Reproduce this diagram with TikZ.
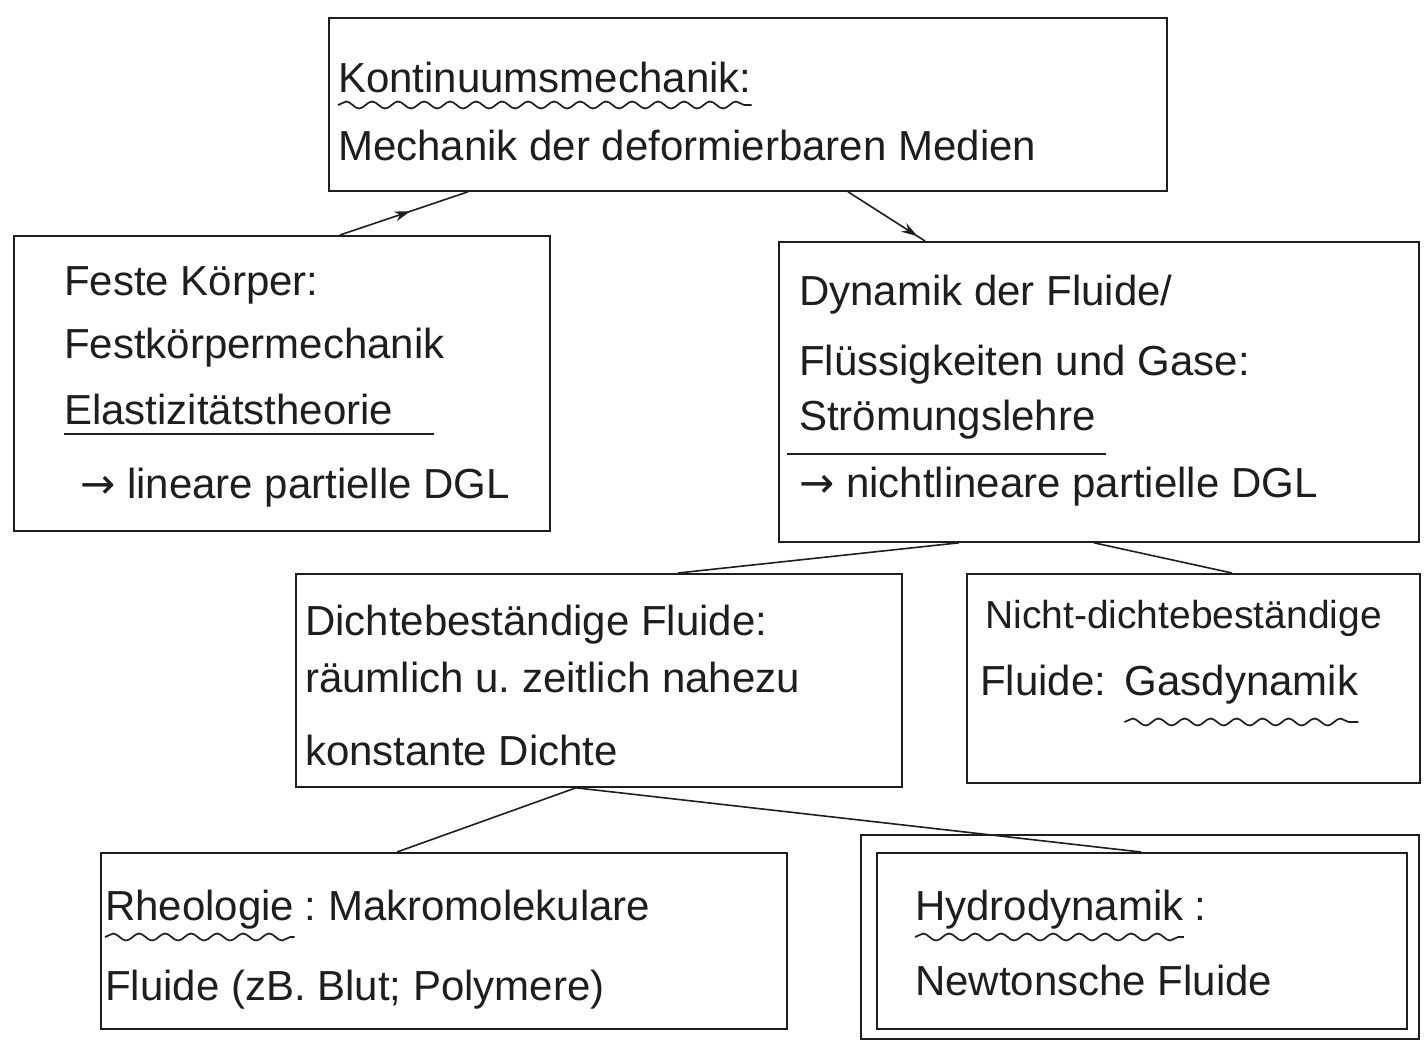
\documentclass[tikz,border=0pt]{standalone}
\usepackage{fontspec}
\setmainfont{Liberation Sans}
\newfontfamily\arrowfont{DejaVu Sans}
\frenchspacing
\usetikzlibrary{decorations.pathmorphing,decorations.markings,arrows.meta}
\definecolor{ink}{HTML}{1E1E1E}
\begin{document}
\begin{tikzpicture}[x=1pt,y=-1pt,
  box/.style={draw=ink, line width=1.8pt, inner sep=0pt, anchor=north west},
  txt/.style={anchor=base west, inner sep=0pt, text=ink, font=\fontsize{42}{50}\selectfont},
  link/.style={draw=ink, line width=1.6pt},
  uline/.style={draw=ink, line width=1.6pt},
  wave/.style={draw=ink, line width=1.7pt, decorate, decoration={snake, segment length=26pt, amplitude=3.5pt}},
  midarrow/.style={postaction={decorate}, decoration={markings, mark=at position #1 with {\arrow[ink]{Stealth[length=16pt,width=10pt]}}}}
]
\useasboundingbox[fill=white] (0,0) rectangle (1424,1045);

% boxes
\node[box, minimum width=838pt, minimum height=173pt] (kont) at (328,17) {};
\node[box, minimum width=536pt, minimum height=295pt] (fest) at (13,235) {};
\node[box, minimum width=640pt, minimum height=300pt] (fluid) at (778,241) {};
\node[box, minimum width=606pt, minimum height=213pt] (dicht) at (295,573) {};
\node[box, minimum width=453pt, minimum height=209pt] (ndicht) at (966,573) {};
\node[box, minimum width=686pt, minimum height=176pt] (rheo) at (100,852) {};
\node[box, minimum width=558pt, minimum height=204pt] (hydroout) at (860,834) {};
\node[box, minimum width=530pt, minimum height=176pt] (hydro) at (876,852) {};

% top box text
\node[txt] (k1) at (338,92) {Kontinuumsmechanik:};
\draw[wave] ([yshift=-13pt]k1.base west) -- ([yshift=-13pt]k1.base east);
\node[txt] (k2) at (338,160) {Mechanik der deformierbaren Medien};

% left box text
\node[txt] (f1) at (64,295) {Feste Körper:};
\node[txt] (f2) at (64,358) {Festkörpermechanik};
\node[txt] (f3) at (64,424) {Elastizitätstheorie};
\draw[uline] ([yshift=-10pt]f3.base west) -- ([xshift=40pt,yshift=-10pt]f3.base east);
\node[txt] (f4) at (80,498) {{\arrowfont →} lineare partielle DGL};

% right box text
\node[txt] (d1) at (799,305) {Dynamik der Fluide/};
\node[txt] (d2) at (799,375) {Flüssigkeiten und Gase:};
\node[txt] (d3) at (799,430) {Strömungslehre};
\draw[uline] ([xshift=-12pt,yshift=-24pt]d3.base west) -- ([xshift=10pt,yshift=-24pt]d3.base east);
\node[txt] (d4) at (799,497) {{\arrowfont →} nichtlineare partielle DGL};

% middle-left
\node[txt] (m1) at (305,635) {Dichtebeständige Fluide:};
\node[txt] (m2) at (305,692) {räumlich u. zeitlich nahezu};
\node[txt] (m3) at (305,765) {konstante Dichte};

% middle-right
\node[txt, font=\fontsize{39}{46}\selectfont] (n1) at (985,628) {Nicht-dichtebeständige};
\node[txt] (n2a) at (980,695) {Fluide:};
\node[txt] (n2b) at ([xshift=18pt]n2a.base east) {Gasdynamik};
\draw[wave] ([yshift=-27pt]n2b.base west) -- ([yshift=-27pt]n2b.base east);

% bottom-left
\node[txt] (r1a) at (105,920) {Rheologie};
\node[txt] (r1b) at ([xshift=10pt]r1a.base east) {: Makromolekulare};
\draw[wave] ([yshift=-17pt]r1a.base west) -- ([yshift=-17pt]r1a.base east);
\node[txt] (r2) at (105,1000) {Fluide (zB. Blut; Polymere)};

% bottom-right
\node[txt] (h1a) at (915,920) {Hydrodynamik};
\node[txt] (h1b) at ([xshift=10pt]h1a.base east) {:};
\draw[wave] ([yshift=-17pt]h1a.base west) -- ([yshift=-17pt]h1a.base east);
\node[txt] (h2) at (915,995) {Newtonsche Fluide};

% connectors
\draw[link, midarrow=0.55] ([xshift=327pt]fest.north west) -- ([xshift=140pt]kont.south west);
\draw[link, midarrow=0.9] ([xshift=520pt]kont.south west) -- ([xshift=147pt]fluid.north west);
\draw[link] ([xshift=181pt]fluid.south west) -- ([xshift=383pt]dicht.north west);
\draw[link] ([xshift=316pt]fluid.south west) -- ([xshift=266pt]ndicht.north west);
\draw[link] ([xshift=281pt]dicht.south west) -- ([xshift=297pt]rheo.north west);
\draw[link] ([xshift=281pt]dicht.south west) -- ([xshift=265pt]hydro.north west);
\end{tikzpicture}
\end{document}
